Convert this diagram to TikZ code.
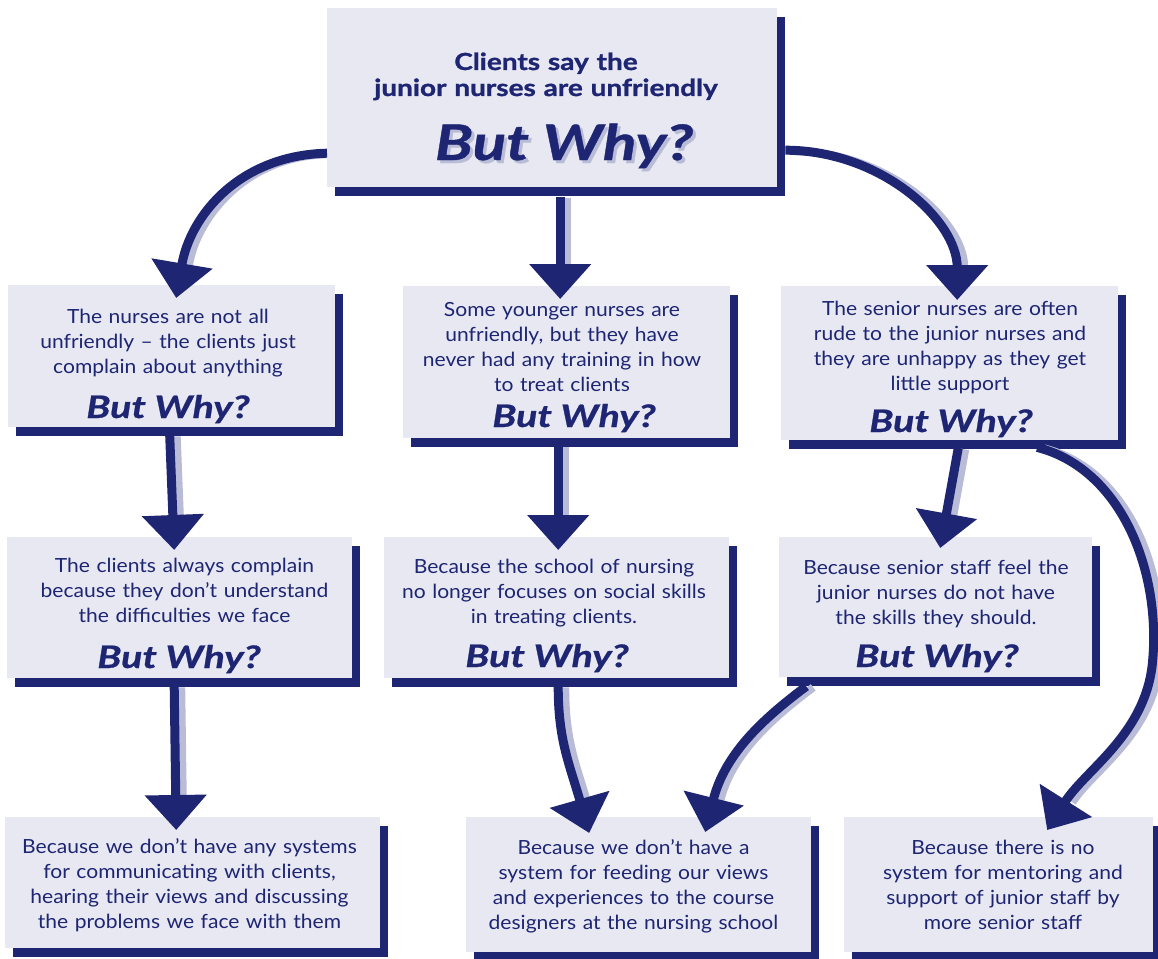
\documentclass[tikz,border=0pt]{standalone}
\usepackage{fontspec}
\setmainfont{Lato}[FakeStretch=1.08]
\newfontfamily\topfont{Lato}[FakeStretch=1.19, FakeBold=1.2]
\newfontfamily\whyfont{Lato}[FakeStretch=1.27, FakeBold=0.8]
\usetikzlibrary{shadows,arrows.meta,calc}
\definecolor{navy}{HTML}{1E2573}
\definecolor{boxfill}{HTML}{E7E8F1}
\definecolor{lightshade}{HTML}{B9BCD6}
\tikzset{
  boxrect/.style={fill=boxfill, draw=none, inner sep=0pt, anchor=north west,
    drop shadow={shadow xshift=8pt, shadow yshift=-9pt, fill=navy, opacity=1}},
  txt/.style={text=navy, align=center, text width=420pt, inner sep=0pt, anchor=base,
    font=\fontsize{19.5}{25}\selectfont},
  toptxt/.style={text=navy, align=center, text width=440pt, inner sep=0pt, anchor=base,
    font=\topfont\fontsize{23.5}{26}\selectfont\bfseries},
  why/.style={text=navy, inner sep=0pt, anchor=base, font=\whyfont\fontsize{31}{31}\selectfont\bfseries\itshape},
  bigwhy/.style={inner sep=0pt, anchor=base, font=\whyfont\fontsize{49}{49}\selectfont\bfseries\itshape},
  conn/.style={draw=navy, line width=9pt, -{Triangle[width=60pt,length=35pt]}},
  connshade/.style={draw=lightshade, line width=8pt, shorten >=34pt, transform canvas={xshift=7pt,yshift=-1pt}},
}
\begin{document}
\begin{tikzpicture}[x=1pt,y=-1pt]
\useasboundingbox (0,0) rectangle (1158,958);
% boxes
\node[boxrect, minimum width=450pt, minimum height=179pt] (A) at (327,8) {};
\node[boxrect, minimum width=327pt, minimum height=142pt] (B) at (8,285) {};
\node[boxrect, minimum width=327pt, minimum height=152pt] (C) at (403,286) {};
\node[boxrect, minimum width=337pt, minimum height=154pt] (D) at (781,286) {};
\node[boxrect, minimum width=345pt, minimum height=141pt] (E) at (7,537) {};
\node[boxrect, minimum width=345pt, minimum height=141pt] (F) at (384,537) {};
\node[boxrect, minimum width=313pt, minimum height=140pt] (G) at (779,537) {};
\node[boxrect, minimum width=375pt, minimum height=131pt] (H) at (5,817) {};
\node[boxrect, minimum width=345pt, minimum height=135pt] (I) at (466,817) {};
\node[boxrect, minimum width=309pt, minimum height=135pt] (J) at (844,817) {};
% texts
\node[toptxt] (tA) at (546,70) {Clients say the\\junior nurses are unfriendly};
\node[bigwhy, text=lightshade] (wAs) at (567,163) {But Why?};
\node[bigwhy, text=navy] (wA) at (564,160) {But Why?};
\node[txt] (tB) at (168,323) {The nurses are not all\\unfriendly -- the clients just\\complain about anything};
\node[why] (wB) at (168,418) {But Why?};
\node[txt] (tC) at (562,316) {Some younger nurses are\\unfriendly, but they have\\never had any training in how\\to treat clients};
\node[why] (wC) at (574,427) {But Why?};
\node[txt] (tD) at (950,315) {The senior nurses are often\\rude to the junior nurses and\\they are unhappy as they get\\little support};
\node[why] (wD) at (951,432) {But Why?};
\node[txt] (tE) at (184.5,572) {The clients always complain\\because they don’t understand\\the difficulties we face};
\node[why] (wE) at (179,668) {But Why?};
\node[txt] (tF) at (554,573) {Because the school of nursing\\no longer focuses on social skills\\in treating clients.};
\node[why] (wF) at (547,667) {But Why?};
\node[txt] (tG) at (936,574) {Because senior staff feel the\\junior nurses do not have\\the skills they should.};
\node[why] (wG) at (937,667) {But Why?};
\node[txt] (tH) at (189.5,853) {Because we don’t have any systems\\for communicating with clients,\\hearing their views and discussing\\the problems we face with them};
\node[txt] (tI) at (633.5,854) {Because we don’t have a\\system for feeding our views\\and experiences to the course\\designers at the nursing school};
\node[txt] (tJ) at (1003,854) {Because there is no\\system for mentoring and\\support of junior staff by\\more senior staff};
% connector shadows
\draw[connshade, shorten <=8pt] ($(A.west)+(0,55.5)$) .. controls +(-87,2) and +(14,-83) .. ($(B.north)+(4.5,13)$);
\draw[connshade] ($(A.south)+(8,10)$) -- ($(C.north)+(-6.5,13)$);
\draw[connshade] ($(A.east)+(8,52.5)$) .. controls +(95,0) and +(0,-80) .. ($(D.north)+(7.5,14)$);
\draw[connshade] ($(B.south)+(-2,8)$) -- ($(E.north)+(-5.5,13)$);
\draw[connshade] ($(C.south)+(-8.5,8)$) -- ($(F.north)+(1.5,13)$);
\draw[connshade] ($(D.south)+(8.5,8)$) -- ($(G.north)+(4.5,11)$);
\draw[connshade] ($(D.south)+(87.5,7)$) .. controls +(83,21) and +(10,-95) .. ($(J.north)+(153.5,-152)$) .. controls +(-8,70) and +(38,-60) .. ($(J.north)+(48.5,13)$);
\draw[connshade] ($(E.south)+(-5.5,8)$) -- ($(H.north)+(-16.5,13)$);
\draw[connshade] ($(F.south)+(1.5,8)$) .. controls +(0,54) and +(-20,-70) .. ($(I.north)+(-49.5,16)$);
\draw[connshade] ($(G.south)+(-129.5,9)$) .. controls +(-40,30) and +(20,-80) .. ($(I.north)+(66.5,15)$);
% connectors
\draw[conn] ($(A.west)+(0,55.5)$) .. controls +(-87,2) and +(14,-83) .. ($(B.north)+(4.5,13)$);
\draw[conn] ($(A.south)+(8,10)$) -- ($(C.north)+(-6.5,13)$);
\draw[conn] ($(A.east)+(8,52.5)$) .. controls +(95,0) and +(0,-80) .. ($(D.north)+(7.5,14)$);
\draw[conn] ($(B.south)+(-2,8)$) -- ($(E.north)+(-5.5,13)$);
\draw[conn] ($(C.south)+(-8.5,8)$) -- ($(F.north)+(1.5,13)$);
\draw[conn] ($(D.south)+(8.5,8)$) -- ($(G.north)+(4.5,11)$);
\draw[conn] ($(D.south)+(87.5,7)$) .. controls +(83,21) and +(10,-95) .. ($(J.north)+(153.5,-152)$) .. controls +(-8,70) and +(38,-60) .. ($(J.north)+(48.5,13)$);
\draw[conn] ($(E.south)+(-5.5,8)$) -- ($(H.north)+(-16.5,13)$);
\draw[conn] ($(F.south)+(1.5,8)$) .. controls +(0,54) and +(-20,-70) .. ($(I.north)+(-49.5,16)$);
\draw[conn] ($(G.south)+(-129.5,9)$) .. controls +(-40,30) and +(20,-80) .. ($(I.north)+(66.5,15)$);
\end{tikzpicture}
\end{document}
